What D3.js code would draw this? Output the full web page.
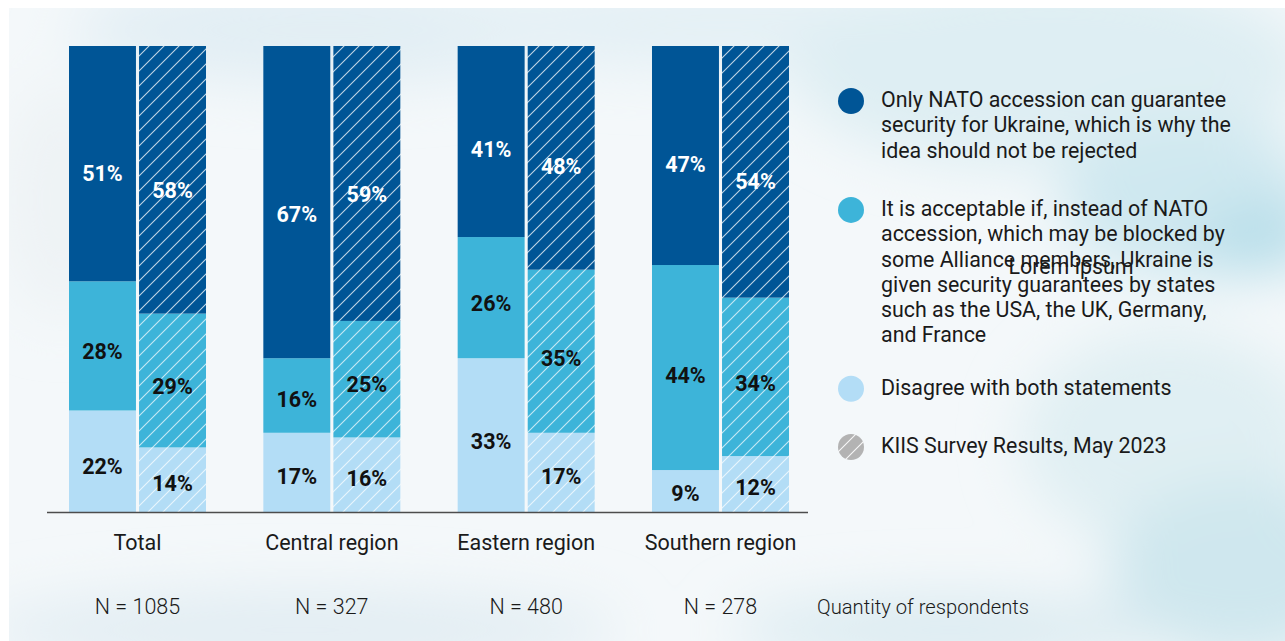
<!DOCTYPE html>
<html>
<head>
<meta charset="utf-8">
<script src="https://cdn.jsdelivr.net/npm/d3@7"></script>
<style>
  html, body { margin: 0; padding: 0; background: #ffffff; }
  svg { display: block; font-family: Roboto, "Noto Sans", sans-serif; }
</style>
</head>
<body>
<svg id="chart" width="1285" height="641"></svg>
<script>
// ---------------- data ----------------
const categories = ["Total", "Central region", "Eastern region", "Southern region"];
const sampleSizes = ["N = 1085", "N = 327", "N = 480", "N = 278"];
const surveys = ["current", "kiis"];
const seriesKeys = ["disagree", "guarantees", "nato"]; // bottom -> top
const natoCurrent = [51, 67, 41, 47];
const guaranteesCurrent = [28, 16, 26, 44];
const disagreeCurrent = [22, 17, 33, 9];
const natoKIIS = [58, 59, 48, 54];
const guaranteesKIIS = [29, 25, 35, 34];
const disagreeKIIS = [14, 16, 17, 12];
const legendLabels = [
  ["Only NATO accession can guarantee", "security for Ukraine, which is why the", "idea should not be rejected"],
  ["It is acceptable if, instead of NATO", "accession, which may be blocked by", "some Alliance members, Ukraine is", "given security guarantees by states", "such as the USA, the UK, Germany,", "and France"],
  ["Disagree with both statements"],
  ["KIIS Survey Results, May 2023"]
];
const chartTitle = "Lorem ipsum";
const respondentsLabel = "Quantity of respondents";

// ---------------- setup ----------------
const colors = { nato: "#005596", guarantees: "#3db4d9", disagree: "#b3ddf6" };
const svg = d3.select("#chart");
const defs = svg.append("defs");

// background watercolour
const blur = defs.append("filter").attr("id", "blur").attr("x", "-50%").attr("y", "-50%").attr("width", "200%").attr("height", "200%");
blur.append("feGaussianBlur").attr("stdDeviation", 28);
svg.append("rect").attr("x", 9).attr("y", 8).attr("width", 1276).attr("height", 633).attr("fill", "#f4f8fa");
const bgClip = defs.append("clipPath").attr("id", "bgclip");
bgClip.append("rect").attr("x", 9).attr("y", 8).attr("width", 1276).attr("height", 633);
const blobs = [
  [330, 30, 260, 55, "#e2eef4"], [720, 25, 320, 45, "#e4f0f5"], [1050, 70, 260, 100, "#deeef3"],
  [1190, 200, 130, 80, "#cfe8f0"], [1260, 240, 60, 30, "#b2dce8"], [1170, 440, 150, 110, "#e0eff3"],
  [1240, 570, 130, 90, "#cfe7ee"], [300, 630, 320, 40, "#e2edf3"], [950, 630, 220, 35, "#dbebf1"],
  [60, 200, 60, 120, "#eef3f5"]
];
svg.append("g").attr("clip-path", "url(#bgclip)").attr("filter", "url(#blur)")
  .selectAll("ellipse").data(blobs).join("ellipse")
  .attr("cx", d => d[0]).attr("cy", d => d[1]).attr("rx", d => d[2]).attr("ry", d => d[3])
  .attr("fill", d => d[4]);

// hatch patterns
function hatch(id, fill, opacity) {
  const p = defs.append("pattern").attr("id", id).attr("patternUnits", "userSpaceOnUse")
    .attr("width", 15).attr("height", 15);
  if (fill) p.append("rect").attr("width", 15).attr("height", 15).attr("fill", fill);
  p.append("path").attr("d", "M0,15L15,0M-3.75,3.75L3.75,-3.75M11.25,18.75L18.75,11.25")
    .attr("stroke", "#ffffff").attr("stroke-width", 1.1).attr("stroke-opacity", opacity);
}
hatch("h-nato", colors.nato, 0.75);
hatch("h-guarantees", colors.guarantees, 0.7);
hatch("h-disagree", colors.disagree, 0.7);
hatch("h-legend", "#b3b3b3", 0.9);

// ---------------- data table ----------------
const rows = [];
categories.forEach((c, i) => {
  rows.push({ category: c, survey: "current", nato: natoCurrent[i], guarantees: guaranteesCurrent[i], disagree: disagreeCurrent[i] });
  rows.push({ category: c, survey: "kiis", nato: natoKIIS[i], guarantees: guaranteesKIIS[i], disagree: disagreeKIIS[i] });
});
const stacked = d3.stack().keys(seriesKeys).offset(d3.stackOffsetExpand)(rows);

// ---------------- scales ----------------
const x0 = d3.scaleBand().domain(categories).range([69, 789]).paddingInner(0.295).paddingOuter(0);
const x1 = d3.scaleBand().domain(surveys).range([0, x0.bandwidth()]).paddingInner(0.044);
const y = d3.scaleLinear().domain([0, 1]).range([512, 46]);

// ---------------- bars ----------------
const gBars = svg.append("g");
stacked.forEach(layer => {
  const key = layer.key;
  const g = gBars.append("g");
  g.selectAll("rect").data(layer).join("rect")
    .attr("x", d => x0(d.data.category) + x1(d.data.survey))
    .attr("width", x1.bandwidth())
    .attr("y", d => y(d[1]))
    .attr("height", d => y(d[0]) - y(d[1]))
    .attr("fill", d => d.data.survey === "kiis" ? `url(#h-${key})` : colors[key]);
  g.selectAll("text").data(layer).join("text")
    .attr("x", d => x0(d.data.category) + x1(d.data.survey) + x1.bandwidth() / 2)
    .attr("y", d => (y(d[0]) + y(d[1])) / 2 + 0.035 * (y(d[0]) - y(d[1])) + 1)
    .attr("dy", "0.36em")
    .attr("text-anchor", "middle")
    .attr("font-size", 21.5).attr("font-weight", 700)
    .attr("fill", key === "nato" ? "#ffffff" : "#111111")
    .text(d => d.data[key] + "%");
});

// baseline
svg.append("line").attr("x1", 47).attr("x2", 808).attr("y1", y(0) + 0.5).attr("y2", y(0) + 0.5)
  .attr("stroke", "#4d4d4d").attr("stroke-width", 1.6);

// x axis labels
const xAxis = d3.axisBottom(x0).tickSize(0).tickPadding(0);
const gx = svg.append("g").attr("transform", "translate(0,535)").call(xAxis);
gx.select(".domain").remove();
gx.selectAll("text").attr("font-size", 21.5).attr("fill", "#1a1a1a").attr("font-family", "Roboto, sans-serif").attr("dy", "0.71em");

// sample sizes
svg.append("g").selectAll("text").data(categories).join("text")
  .attr("x", d => x0(d) + x0.bandwidth() / 2).attr("y", 614)
  .attr("text-anchor", "middle").attr("font-size", 21.5).attr("font-weight", 300).attr("fill", "#1a1a1a")
  .text((d, i) => sampleSizes[i]);
svg.append("text").attr("x", 817).attr("y", 614).attr("font-size", 20.2).attr("font-weight", 300)
  .attr("fill", "#1a1a1a").text(respondentsLabel);

// legend
const legendFills = [colors.nato, colors.guarantees, colors.disagree, "url(#h-legend)"];
const lineH = 25.3, gaps = [33, 27, 33];
let by = 107;
const gLeg = svg.append("g");
legendLabels.forEach((lines, i) => {
  const g = gLeg.append("g");
  g.append("circle").attr("cx", 851).attr("cy", by - 6).attr("r", 13).attr("fill", legendFills[i]);
  const t = g.append("text").attr("font-size", 21.4).attr("fill", "#1a1a1a");
  lines.forEach((ln, j) => t.append("tspan").attr("x", 881).attr("y", by + j * lineH).text(ln));
  by += lines.length * lineH + (gaps[i] || 0);
});

// title placeholder
svg.append("text").attr("x", 1071).attr("y", 274).attr("text-anchor", "middle")
  .attr("font-size", 21.4).attr("fill", "#1a1a1a").text(chartTitle);
</script>
</body>
</html>
